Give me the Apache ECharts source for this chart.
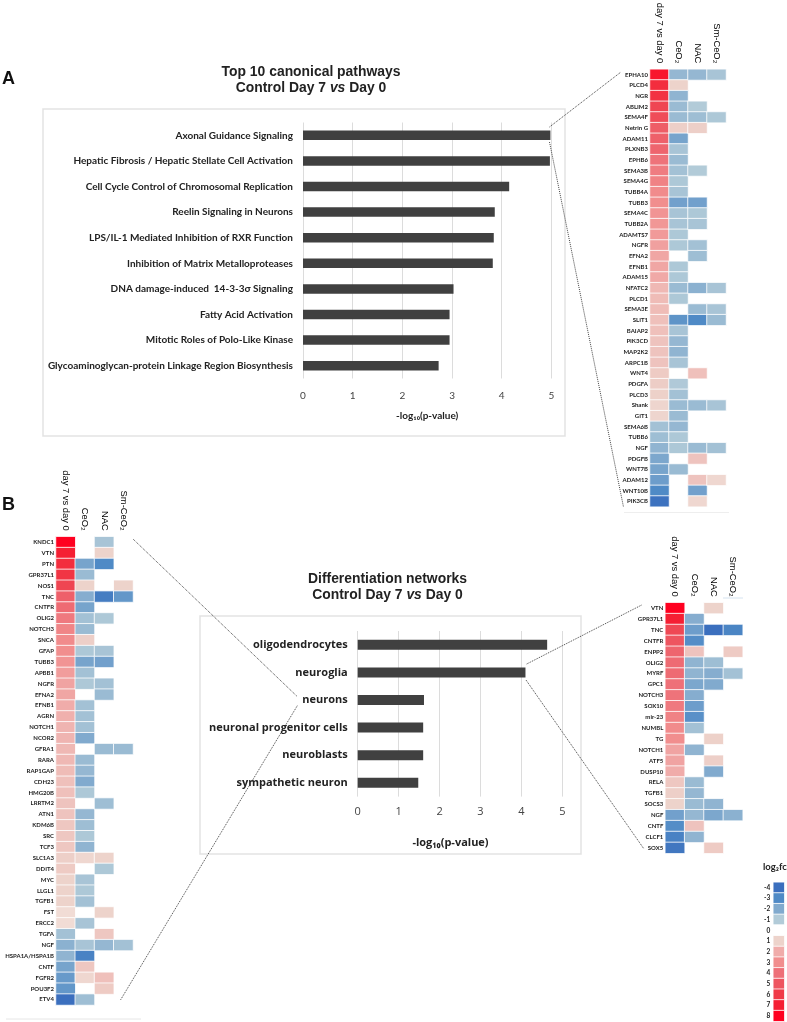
<!DOCTYPE html>
<html>
<head>
<meta charset="utf-8">
<style>
html, body { margin: 0; padding: 0; background: #fff; }
#chart { width: 787px; height: 1022px; }
</style>
<script src="https://cdn.jsdelivr.net/npm/echarts@6/dist/echarts.min.js"></script>
</head>
<body>
<div id="chart"></div>
<script>
const _ = null

// top 10 canonical pathways
const pathways = ['Axonal Guidance Signaling', 'Hepatic Fibrosis / Hepatic Stellate Cell Activation', 'Cell Cycle Control of Chromosomal Replication', 'Reelin Signaling in Neurons', 'LPS/IL-1 Mediated Inhibition of RXR Function', 'Inhibition of Matrix Metalloproteases', 'DNA damage-induced  14-3-3σ Signaling', 'Fatty Acid Activation', 'Mitotic Roles of Polo-Like Kinase', 'Glycoaminoglycan-protein Linkage Region Biosynthesis']
const pathwayValues = [4.98, 4.97, 4.15, 3.86, 3.84, 3.82, 3.03, 2.95, 2.95, 2.73]

// differentiation networks
const networks = ['oligodendrocytes', 'neuroglia', 'neurons', 'neuronal progenitor cells', 'neuroblasts', 'sympathetic neuron']
const networkValues = [4.63, 4.10, 1.62, 1.60, 1.60, 1.48]

const treatments = ['day 7 vs day 0', 'CeO₂', 'NAC', 'Sm-CeO₂']

// heatmap A, axonal guidance genes
const genesA = ['EPHA10', 'PLCD4', 'NGR', 'ABLIM2', 'SEMA4F', 'Netrin G', 'ADAM11', 'PLXNB3', 'EPHB6', 'SEMA3B', 'SEMA4G', 'TUBB4A', 'TUBB3', 'SEMA4C', 'TUBB2A', 'ADAMTS7', 'NGFR', 'EFNA2', 'EFNB1', 'ADAM15', 'NFATC2', 'PLCD1', 'SEMA3E', 'SLIT1', 'BAIAP2', 'PIK3CD', 'MAP2K2', 'ARPC1B', 'WNT4', 'PDGFA', 'PLCD3', 'Shank', 'GIT1', 'SEMA6B', 'TUBB6', 'NGF', 'PDGFB', 'WNT7B', 'ADAM12', 'WNT10B', 'PIK3CB']
const dayA = [7.3, 6.5, 6.3, 5.6, 5.3, 4.7, 4.6, 4.4, 3.9, 3.6, 3.4, 3.1, 3.0, 2.8, 2.7, 2.6, 2.4, 2.2, 2.2, 2.1, 1.7, 1.6, 1.6, 1.5, 1.5, 1.4, 1.4, 1.4, 1.2, 1.15, 1.05, 0.95, 0.95, -1.3, -1.4, -1.7, -2.1, -2.2, -2.4, -3.0, -3.9]
const ceoA = [-1.6, 1.0, -1.7, -1.5, -1.5, 1.1, -2.2, -1.2, -1.5, -1.3, -1.1, -1.2, -2.3, -1.2, -1.2, -1.1, -1.1, _, -1.1, -1.1, -1.5, -1.1, _, -2.7, -1.2, -1.6, -1.7, -1.2, _, -1.05, -1.3, -1.5, -1.5, -1.6, -1.1, -1.1, _, -1.5, _, _, _]
const nacA = [-1.6, _, _, -1.0, -1.4, 1.1, _, _, _, -1.0, _, _, -2.3, -1.1, -1.2, _, -1.3, -1.4, _, _, -1.8, _, -1.5, -3.0, _, _, _, _, 1.5, _, _, -1.5, _, _, _, -1.5, 1.4, _, 1.4, -2.3, 0.9]
const smA = [-1.2, _, _, _, -1.1, _, _, _, _, _, _, _, _, _, _, _, _, _, _, _, -1.2, _, -1.2, -1.5, _, _, _, _, _, _, _, -1.2, _, _, _, -1.3, _, _, 0.9, _, _]

// heatmap B left, neurons
const genesL = ['KNDC1', 'VTN', 'PTN', 'GPR37L1', 'NOS1', 'TNC', 'CNTFR', 'OLIG2', 'NOTCH3', 'SNCA', 'GFAP', 'TUBB3', 'APBB1', 'NGFR', 'EFNA2', 'EFNB1', 'AGRN', 'NOTCH1', 'NCOR2', 'GFRA1', 'RARA', 'RAP1GAP', 'CDH23', 'HMG20B', 'LRRTM2', 'ATN1', 'KDM6B', 'SRC', 'TCF3', 'SLC1A3', 'DDIT4', 'MYC', 'LLGL1', 'TGFB1', 'FST', 'ERCC2', 'TGFA', 'NGF', 'HSPA1A/HSPA1B', 'CNTF', 'FGFR2', 'POU3F2', 'ETV4']
const dayL = [8, 7, 6.5, 6.2, 5.6, 4.6, 4.2, 3.7, 3.3, 3.1, 3.0, 2.8, 2.5, 2.3, 2.2, 2.0, 1.9, 1.8, 1.8, 1.7, 1.7, 1.6, 1.5, 1.5, 1.4, 1.4, 1.3, 1.3, 1.3, 1.1, 1.2, 1.0, 1.0, 1.0, 0.8, 0.8, -1.3, -1.8, -1.7, -2.2, -2.5, -2.6, -4]
const ceoL = [_, _, -2.2, -1.5, 1.0, -1.9, -2.2, -1.3, -1.5, 1.1, -1.1, -2.2, -1.3, -1.1, _, -1.3, -1.3, -1.3, -2.0, _, -1.5, -1.6, -2.0, -1.1, _, -1.6, -1.4, -1.1, -1.7, 0.9, _, -1.2, -1.1, -1.3, _, -1.2, _, -1.2, -3.3, 1.3, 0.9, _, -1.4]
const nacL = [-1.2, 1.0, -3.0, _, _, -3.5, _, -1.1, _, _, -1.2, -2.3, _, -1.3, -1.5, _, _, _, _, -1.5, _, _, _, _, -1.4, _, _, _, _, 1.0, -1.1, _, _, _, 1.0, _, 1.3, -1.6, _, _, 1.5, 1.2, _]
const smL = [_, _, _, _, 1.0, -2.6, _, _, _, _, _, _, _, _, _, _, _, _, _, -1.5, _, _, _, _, _, _, _, _, _, _, _, _, _, _, _, _, _, -1.3, _, _, _, _, _]

// heatmap B right, neuroglia
const genesR = ['VTN', 'GPR37L1', 'TNC', 'CNTFR', 'ENPP2', 'OLIG2', 'MYRF', 'GPC1', 'NOTCH3', 'SOX10', 'mir-23', 'NUMBL', 'TG', 'NOTCH1', 'ATF5', 'DUSP10', 'RELA', 'TGFB1', 'SOCS3', 'NGF', 'CNTF', 'CLCF1', 'SOX5']
const dayR = [8, 7, 5.5, 5, 4.4, 4.2, 4.2, 4, 3.9, 3.7, 3.4, 3.1, 3.0, 2.3, 2.3, 2.0, 1.3, 1.1, 1.0, -2.3, -2.9, -3.3, -3.7]
const ceoR = [_, -1.9, -2.4, -2.9, 1.4, -1.7, -1.7, -2.1, -1.9, -2.4, -2.8, -1.3, _, -1.7, _, _, -1.5, -1.6, -1.5, -1.6, 1.4, -1.7, _]
const nacR = [1.0, _, -4, _, _, -1.4, -1.9, -2.0, _, _, _, _, 1.05, _, 1.1, -2.0, _, _, -1.7, -2.1, _, _, 1.2]
const smR = [_, _, -3.2, _, 1.2, _, -1.3, _, _, _, _, _, _, _, _, _, _, _, _, -1.8, _, _, _]

// log2fc colour key
const keyValues = [-4, -3, -2, -1, 0, 1, 2, 3, 4, 5, 6, 7, 8]
const keyColors = ['#3b6fbe', '#4f8ac6', '#81aace', '#b2cbd8', '#ffffff', '#edd3cb', '#f0acaa', '#f18e8e', '#ee7078', '#ee5560', '#f03a48', '#f51f33', '#ff0020']

const narrow = 'Lato, "Liberation Sans", sans-serif'
const sans = '"Liberation Sans", Arial, sans-serif'
const semi = '"Open Sans", "Noto Sans", sans-serif'

function cells (columns) {
  const out = []
  columns.forEach((col, x) => {
    col.forEach((v, y) => {
      if (v !== null) out.push([x, y, v])
    })
  })
  return out
}

function titleBlock (x, top, first, size) {
  return {
    left: x,
    top,
    padding: 0,
    textAlign: 'center',
    text: '{b|' + first + '}\n{b|Control Day 7 }{i|vs}{b| Day 0}',
    textStyle: {
      rich: {
        b: { fontFamily: sans, fontWeight: 'bold', fontSize: size, lineHeight: 16, color: '#222' },
        i: { fontFamily: sans, fontWeight: 'bold', fontStyle: 'italic', fontSize: size, lineHeight: 16, color: '#222' }
      }
    }
  }
}

function barAxes (gridIndex, cats, font, labelSize, tickSize, tickMargin, nameGap, namePad) {
  return {
    x: {
      type: 'value',
      gridIndex,
      min: 0,
      max: 5,
      interval: 1,
      name: '-log₁₀(p-value)',
      nameLocation: 'middle',
      nameGap,
      nameTextStyle: { fontFamily: font, fontWeight: 'bold', fontSize: labelSize, color: '#222', padding: namePad },
      axisLine: { show: false },
      axisTick: { show: false },
      axisLabel: { margin: tickMargin, fontFamily: font, fontSize: tickSize, color: '#444' },
      splitLine: { lineStyle: { color: '#dcdcdc', width: 1 } }
    },
    y: {
      type: 'category',
      gridIndex,
      inverse: true,
      data: cats,
      axisLine: { show: false },
      axisTick: { show: false },
      axisLabel: { interval: 0, margin: 10, fontFamily: font, fontWeight: 'bold', fontSize: labelSize, color: '#222' }
    }
  }
}

function heatAxes (gridIndex, rows) {
  return {
    x: {
      type: 'category',
      gridIndex,
      position: 'top',
      data: treatments,
      axisLine: { show: false },
      axisTick: { show: false },
      splitArea: { show: false },
      axisLabel: { interval: 0, rotate: 90, margin: 6, fontFamily: sans, fontSize: 9.4, color: '#000' }
    },
    y: {
      type: 'category',
      gridIndex,
      inverse: true,
      data: rows,
      axisLine: { show: false },
      axisTick: { show: false },
      axisLabel: { interval: 0, margin: 2, fontFamily: narrow, fontWeight: 'bold', fontSize: 6, color: '#222' }
    }
  }
}

function heatSeries (xAxisIndex, columns) {
  return {
    type: 'heatmap',
    xAxisIndex,
    yAxisIndex: xAxisIndex,
    data: cells(columns),
    itemStyle: { borderColor: '#fff', borderWidth: 0.8 },
    emphasis: { disabled: true }
  }
}

function connector (x1, y1, x2, y2) {
  return {
    type: 'line',
    shape: { x1, y1, x2, y2 },
    style: { stroke: '#444', lineWidth: 1, lineDash: [1, 1] },
    z: 20
  }
}

const barA = barAxes(0, pathways, narrow, 10, 10, 12, 32, 0)
const barB = barAxes(1, networks, semi, 11, 11, 10, 41, [0, 19, 0, 0])
const heatA = heatAxes(2, genesA)
const heatL = heatAxes(3, genesL)
const heatR = heatAxes(4, genesR)

const chart = echarts.init(document.getElementById('chart'), null, { renderer: 'canvas' })
chart.setOption({
  animation: false,
  backgroundColor: '#fff',
  title: [
    titleBlock(311, 64, 'Top 10 canonical pathways', 13.9),
    titleBlock(387.5, 571, 'Differentiation networks', 13.9)
  ],
  grid: [
    { left: 303, top: 122.5, width: 248.4, height: 256, outerBoundsMode: 'none' },
    { left: 357.7, top: 631, width: 204.6, height: 165.6, outerBoundsMode: 'none' },
    { left: 650, top: 69.3, width: 76, height: 437.4, outerBoundsMode: 'none' },
    { left: 56, top: 536.7, width: 77, height: 468.3, outerBoundsMode: 'none' },
    { left: 665.3, top: 602.7, width: 77.4, height: 250.6, outerBoundsMode: 'none' },
    { left: 773.3, top: 882.3, width: 11, height: 139, outerBoundsMode: 'none' }
  ],
  xAxis: [
    barA.x, barB.x, heatA.x, heatL.x, heatR.x,
    { type: 'category', gridIndex: 5, data: ['key'], show: false }
  ],
  yAxis: [
    barA.y, barB.y, heatA.y, heatL.y, heatR.y,
    {
      type: 'category',
      gridIndex: 5,
      inverse: true,
      data: keyValues,
      axisLine: { show: false },
      axisTick: { show: false },
      axisLabel: { interval: 0, margin: 3, fontFamily: narrow, fontWeight: 'bold', fontSize: 6.5, color: '#222' }
    }
  ],
  visualMap: {
    show: false,
    type: 'continuous',
    seriesIndex: [2, 3, 4, 5],
    dimension: 2,
    min: -4,
    max: 8,
    inRange: { color: keyColors }
  },
  series: [
    { type: 'bar', xAxisIndex: 0, yAxisIndex: 0, data: pathwayValues, barWidth: 9.5, itemStyle: { color: '#404040' }, emphasis: { disabled: true } },
    { type: 'bar', xAxisIndex: 1, yAxisIndex: 1, data: networkValues, barWidth: 10, itemStyle: { color: '#404040' }, emphasis: { disabled: true } },
    heatSeries(2, [dayA, ceoA, nacA, smA]),
    heatSeries(3, [dayL, ceoL, nacL, smL]),
    heatSeries(4, [dayR, ceoR, nacR, smR]),
    heatSeries(5, [keyValues])
  ],
  graphic: [
    { type: 'rect', shape: { x: 43, y: 109, width: 522, height: 327 }, style: { fill: 'none', stroke: '#e3e3e3', lineWidth: 1.5 }, z: -1 },
    { type: 'rect', shape: { x: 200, y: 616, width: 381, height: 238 }, style: { fill: 'none', stroke: '#e3e3e3', lineWidth: 1.5 }, z: -1 },
    { type: 'line', shape: { x1: 6, y1: 1019, x2: 141, y2: 1019 }, style: { stroke: '#e6e6e6', lineWidth: 1 } },
    { type: 'line', shape: { x1: 624, y1: 512.5, x2: 729, y2: 512.5 }, style: { stroke: '#eeeeee', lineWidth: 1 } },
    { type: 'line', shape: { x1: 723, y1: 598, x2: 743, y2: 598 }, style: { stroke: '#d5e3f0', lineWidth: 1 } },
    connector(549.5, 127, 621, 72),
    connector(549.5, 142, 623.5, 507),
    connector(296.7, 696, 133, 539),
    connector(297.3, 705.7, 120.5, 1000),
    connector(526.7, 664, 641.7, 605),
    connector(526, 680, 644, 849),
    { type: 'text', style: { x: 2, y: 70, text: 'A', fontFamily: sans, fontWeight: 'bold', fontSize: 18, fill: '#111' } },
    { type: 'text', style: { x: 2, y: 496, text: 'B', fontFamily: sans, fontWeight: 'bold', fontSize: 18, fill: '#111' } },
    { type: 'text', style: { x: 763, y: 862, text: 'log₂fc', fontFamily: narrow, fontWeight: 'bold', fontSize: 9.5, fill: '#222' } }
  ]
})
</script>
</body>
</html>
